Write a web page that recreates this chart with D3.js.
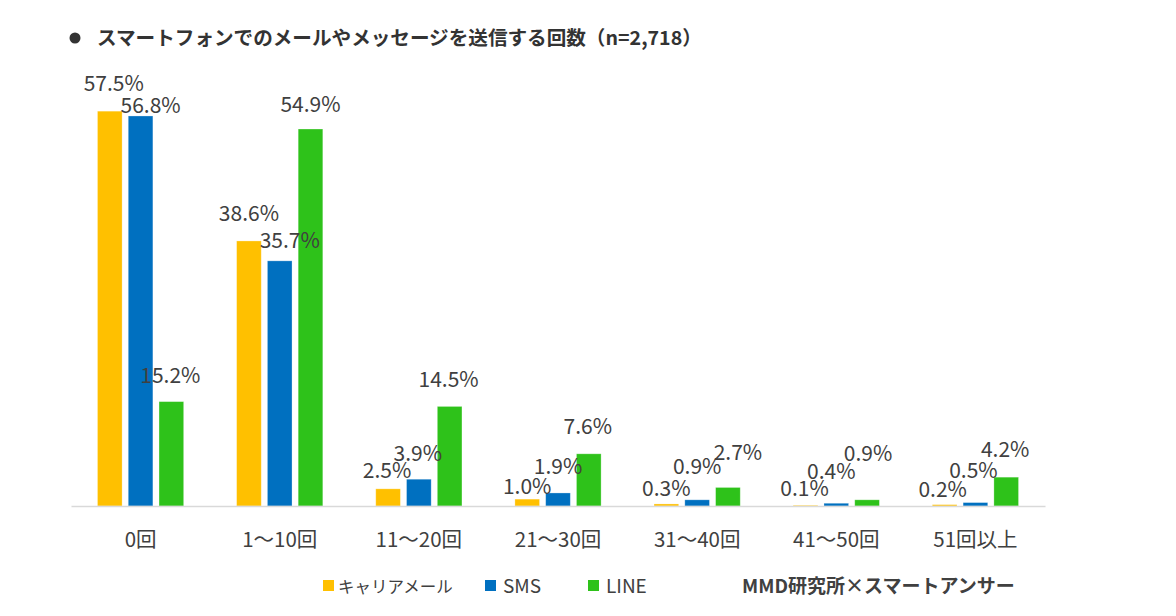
<!DOCTYPE html>
<html><head><meta charset="utf-8">
<script src="https://cdn.jsdelivr.net/npm/d3@7/dist/d3.min.js"></script>
<style>
html,body{margin:0;padding:0;background:#fff;}
svg{display:block;}
text{font-family:"Noto Sans CJK JP","Noto Sans",sans-serif;}
</style></head>
<body>
<svg id="chart" width="1176" height="616"></svg>
<script>
const title = "スマートフォンでのメールやメッセージを送信する回数（n=2,718）";
const credit = "MMD研究所×スマートアンサー";
const categories = ["0回","1～10回","11～20回","21～30回","31～40回","41～50回","51回以上"];
const seriesNames = ["キャリアメール","SMS","LINE"];
const carrierMail = [57.5, 38.6, 2.5, 1.0, 0.3, 0.1, 0.2];
const sms = [56.8, 35.7, 3.9, 1.9, 0.9, 0.4, 0.5];
const line = [15.2, 54.9, 14.5, 7.6, 2.7, 0.9, 4.2];
const colors = ["#FFC000","#0070C0","#2EC21A"];
// label nudges (px) relative to default placement above each bar: [dx, dy]
const labelNudge = [
  [[4,-1],[10,16],[-1,0]],
  [[0,-1],[10,6],[0,2]],
  [[-1,8],[-1,1],[-1,0]],
  [[0,14],[0,0],[-1,-1]],
  [[0,11],[0,-7],[10,-8]],
  [[-1,10],[-5,-5],[1,-20]],
  [[-2,11],[-2,-6],[-1,-1]]
];

const seriesValues = [carrierMail, sms, line];
const svg = d3.select("#chart");

const x0 = d3.scaleBand().domain(categories).range([71, 1045]).paddingInner(0).paddingOuter(0);
const x1 = d3.scaleBand().domain(seriesNames).range([0, x0.bandwidth()]).paddingInner(0.2).paddingOuter(0.86);
const y = d3.scaleLinear().domain([0, 60]).range([506, 94]);

// title
svg.append("circle").attr("cx", 75).attr("cy", 38).attr("r", 5.5).attr("fill", "#333");
svg.append("text").attr("x", 97).attr("y", 45).attr("font-size", 19.6).attr("font-weight", "bold")
  .attr("fill", "#333").text(title);

// bars
const g = svg.append("g");
categories.forEach((c, i) => {
  seriesNames.forEach((s, j) => {
    const v = seriesValues[j][i];
    g.append("rect")
      .attr("x", x0(c) + x1(s))
      .attr("y", y(v))
      .attr("width", x1.bandwidth())
      .attr("height", y(0) - y(v))
      .attr("fill", colors[j])
      .attr("stroke", "#ffffff").attr("stroke-opacity", 0.35).attr("stroke-width", 0.8);
  });
});

// axis
const xAxis = d3.axisBottom(x0).tickSize(0).tickPadding(26);
const ax = svg.append("g").attr("transform", `translate(0,${y(0)})`).call(xAxis);
ax.select(".domain").attr("stroke", "#d9d9d9").attr("stroke-width", 1.5);
ax.selectAll("text").attr("font-size", 20.5).attr("fill", "#404040")
  .attr("font-family", '"Noto Sans CJK JP","Noto Sans",sans-serif');

// data labels
const lg = svg.append("g");
categories.forEach((c, i) => {
  seriesNames.forEach((s, j) => {
    const v = seriesValues[j][i];
    const n = labelNudge[i][j];
    lg.append("text")
      .attr("x", x0(c) + x1(s) + x1.bandwidth() / 2 + n[0])
      .attr("y", y(v) - 19 + n[1])
      .attr("text-anchor", "middle")
      .attr("font-size", 21)
      .attr("fill", "#404040")
      .text(v.toFixed(1) + "%");
  });
});

// legend
const legX = [323, 485, 588];
seriesNames.forEach((s, j) => {
  svg.append("rect").attr("x", legX[j]).attr("y", 580).attr("width", 11).attr("height", 11).attr("fill", colors[j]);
  svg.append("text").attr("x", legX[j] + (j === 0 ? 15 : 18)).attr("y", 593)
    .attr("font-size", j === 0 ? 16.5 : 19).attr("fill", "#404040").text(s);
});
svg.append("text").attr("x", 742).attr("y", 593).attr("font-size", 19).attr("font-weight", "bold")
  .attr("fill", "#404040").text(credit);
</script>
</body></html>
